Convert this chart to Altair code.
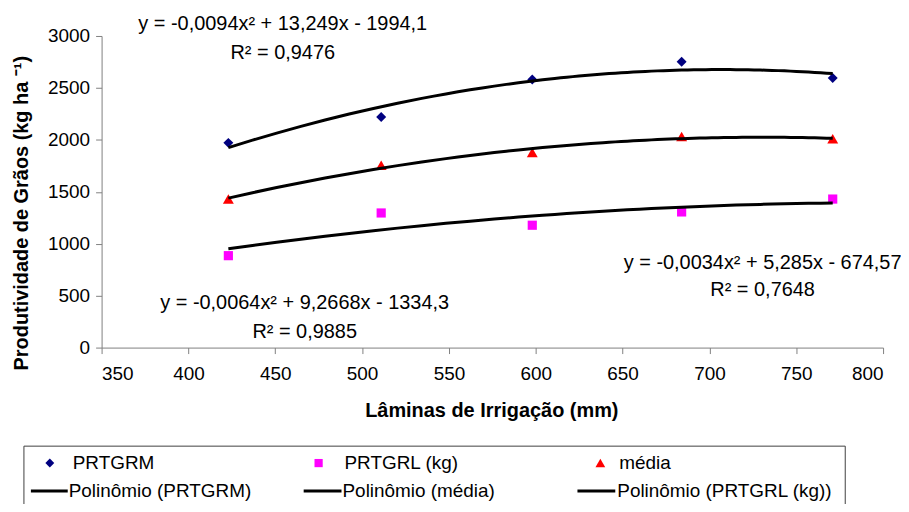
import altair as alt
import pandas as pd

# ---- data ----
x_mm = [423, 511, 598, 684, 771]
prtgrm = [1971, 2221, 2581, 2751, 2596]
prtgrl = [885, 1296, 1178, 1306, 1430]
media = [1431, 1756, 1879, 2032, 2011]

series = ["PRTGRM", "PRTGRL (kg)", "média"]
series_values = [prtgrm, prtgrl, media]
trend_labels = ["Polinômio (PRTGRM)", "Polinômio (média)", "Polinômio (PRTGRL (kg))"]
series_colors = ["#000080", "#FF00FF", "#FF0000"]
series_shapes = ["diamond", "square", "triangle-up"]
series_sizes = [100, 85, 120]

x_ticks = [350, 400, 450, 500, 550, 600, 650, 700, 750, 800]
y_ticks = [0, 500, 1000, 1500, 2000, 2500, 3000]

eq_texts = [
    ("y = -0,0094x² + 13,249x - 1994,1", "R² = 0,9476"),
    ("y = -0,0034x² + 5,285x - 674,57", "R² = 0,7648"),
    ("y = -0,0064x² + 9,2668x - 1334,3", "R² = 0,9885"),
]
x_title = "Lâminas de Irrigação (mm)"
y_title = "Produtividade de Grãos (kg ha ⁻¹)"

rows = []
for name, vals in zip(series, series_values):
    for xv, yv in zip(x_mm, vals):
        rows.append({"x": xv, "y": yv, "serie": name})
df = pd.DataFrame(rows)

# ---- layout ----
W, H = 785, 313
FONT = "Liberation Sans"
AXC = "#808080"

xs = alt.Scale(domain=[350, 800], nice=False, zero=False)
ys = alt.Scale(domain=[0, 3000], nice=False)
x_axis = alt.Axis(values=x_ticks, title=None, grid=False, labelFontSize=19, labelFont=FONT,
                  labelColor="black", domainColor=AXC, tickColor=AXC, tickSize=6,
                  labelPadding=11, format="d")
y_axis = alt.Axis(values=y_ticks, title=None, grid=False, labelFontSize=19, labelFont=FONT,
                  labelColor="black", domainColor=AXC, tickColor=AXC, tickSize=6,
                  labelPadding=6, format="d")

layers = []
for name, color, shape, size in zip(series, series_colors, series_shapes, series_sizes):
    layers.append(
        alt.Chart(df).transform_filter(alt.datum.serie == name)
        .mark_point(filled=True, opacity=1, shape=shape, color=color, size=size)
        .encode(x=alt.X("x:Q", scale=xs, axis=x_axis), y=alt.Y("y:Q", scale=ys, axis=y_axis))
    )

trend = (
    alt.Chart(df)
    .transform_regression("x", "y", method="poly", order=2, groupby=["serie"])
    .mark_line(color="black", strokeWidth=3)
    .encode(x=alt.X("x:Q", scale=xs, axis=x_axis), y=alt.Y("y:Q", scale=ys, axis=y_axis),
            detail="serie:N")
)
layers.append(trend)


def txt(s, cx, cy, size=20, align="center", weight="normal", angle=0):
    return (
        alt.Chart(pd.DataFrame({"t": [s]}))
        .mark_text(align=align, baseline="middle", fontSize=size, font=FONT,
                   fontWeight=weight, angle=angle, color="black")
        .encode(x=alt.value(cx), y=alt.value(cy), text="t:N")
    )


# equations (positions in plot-area pixels)
eq_pos = [(182, -12, 17), (664, 228, 255), (204, 268, 297)]
for (eq, r2), (cx, cy1, cy2) in zip(eq_texts, eq_pos):
    layers.append(txt(eq, cx, cy1))
    layers.append(txt(r2, cx, cy2))

# axis titles
layers.append(txt(x_title, 392, 377, size=20, weight="bold"))
layers.append(txt(y_title, -80, 178, size=20, weight="bold", angle=270))

# legend box
box_df = pd.DataFrame({"a": [0]})
layers.append(
    alt.Chart(box_df).mark_rect(fill="transparent", stroke="#404040", strokeWidth=1)
    .encode(x=alt.value(-78), x2=alt.value(747), y=alt.value(412), y2=alt.value(490))
)
row1, row2 = 429, 457
marker_x = [-52, 218, 501]
label_x = [-29, 244, 520]
line_x = [(-71, -34), (203, 241), (478, 516)]
trend_text_x = [-33, 242, 518]
for name, color, shape, size, mx, lx in zip(series, series_colors, series_shapes,
                                            series_sizes, marker_x, label_x):
    layers.append(
        alt.Chart(pd.DataFrame({"t": [name]}))
        .mark_point(filled=True, opacity=1, shape=shape, color=color, size=size * 0.8)
        .encode(x=alt.value(mx), y=alt.value(row1))
    )
    layers.append(txt(name, lx, row1, size=19, align="left"))
for lab, (a, b), tx in zip(trend_labels, line_x, trend_text_x):
    layers.append(
        alt.Chart(pd.DataFrame({"t": [lab]}))
        .mark_rule(color="black", strokeWidth=3)
        .encode(x=alt.value(a), x2=alt.value(b), y=alt.value(row2))
    )
    layers.append(txt(lab, tx, row2, size=19, align="left"))

chart = (
    alt.layer(*layers)
    .properties(width=W, height=H,
                padding={"left": 94, "top": 27, "right": 18, "bottom": 156},
                autosize=alt.AutoSizeParams(type="none"))
    .configure_view(stroke=None)
)

chart.save("out.html", embed_options={"renderer": "svg", "actions": False})
